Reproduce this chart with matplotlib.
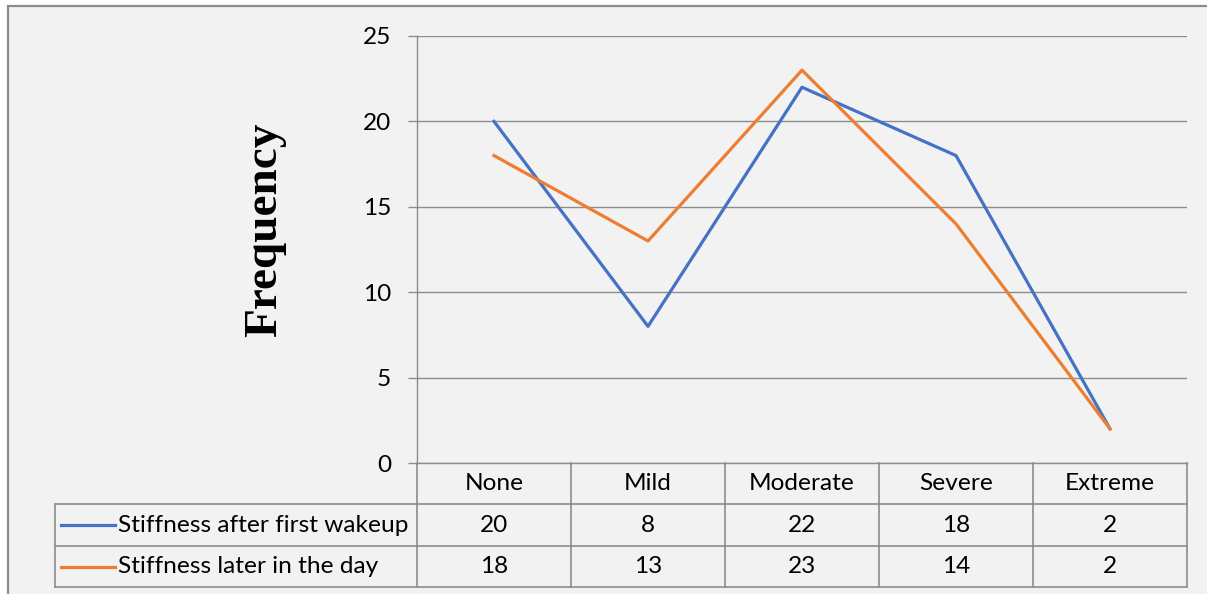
import numpy as np
import matplotlib.pyplot as plt
from matplotlib.patches import Rectangle
from matplotlib.lines import Line2D

categories = ['None', 'Mild', 'Moderate', 'Severe', 'Extreme']
wakeup = [20, 8, 22, 18, 2]
later_day = [18, 13, 23, 14, 2]
series_names = ['Stiffness after first wakeup', 'Stiffness later in the day']
y_ticks = [0, 5, 10, 15, 20, 25]

BLUE = '#4472C4'
ORANGE = '#ED7D31'
BG = '#F2F2F2'
GRID = '#8C8C8C'
TABLE_LINE = '#8C8C8C'
FONT = 'Lato'
FSIZE = 17.6

W, H = 1207, 594
fig = plt.figure(figsize=(W / 100, H / 100), dpi=100)
fig.patch.set_facecolor('white')

# chart panel with a thin gray frame (top and left visible)
panel = Rectangle((8 / W, -0.1), 1.2, (H - 6) / H + 0.1, transform=fig.transFigure,
                  facecolor=BG, edgecolor='#8C8C8C', linewidth=1.6, zorder=-10)
fig.patches.append(panel)

ax = fig.add_axes([417 / W, 131 / H, 770 / W, 427 / H])
ax.patch.set_visible(False)

x = np.arange(len(categories))
ax.plot(x, wakeup, color=BLUE, linewidth=2.3, solid_joinstyle='round', zorder=3)
ax.plot(x, later_day, color=ORANGE, linewidth=2.3, solid_joinstyle='round', zorder=3)

ax.set_xlim(-0.5, len(categories) - 0.5)
ax.set_ylim(0, 25)
ax.set_yticks(y_ticks)
ax.set_yticklabels([str(t) for t in y_ticks], fontfamily=FONT, fontsize=FSIZE)
ax.set_xticks([])
ax.tick_params(axis='y', length=6.5, width=1, color=GRID, pad=12)
ax.grid(axis='y', color=GRID, linewidth=1)
ax.set_axisbelow(True)
for side in ['top', 'right']:
    ax.spines[side].set_visible(False)
for side in ['left', 'bottom']:
    ax.spines[side].set_color(GRID)
    ax.spines[side].set_linewidth(1)

fig.text(265 / W, 1 - 230 / H, 'Frequency', rotation=90, ha='center', va='center',
         fontfamily='Liberation Serif', fontweight='bold', fontsize=34)

# data table under the plot: header row of categories, then one row per series
trans = ax.get_xaxis_transform()
px = 1 / 427
row_edges = [0, -41 * px, -83 * px, -124 * px]
left_edge = -0.5 - (417 - 55) / 154
right_edge = len(categories) - 0.5

def hline(x0, x1, y):
    ax.add_line(Line2D([x0, x1], [y, y], transform=trans, color=TABLE_LINE,
                       linewidth=1.2, clip_on=False))

def vline(xv, y0, y1):
    ax.add_line(Line2D([xv, xv], [y0, y1], transform=trans, color=TABLE_LINE,
                       linewidth=1.2, clip_on=False))

for y in row_edges[1:]:
    hline(left_edge, right_edge, y)
for b in np.arange(len(categories) + 1) - 0.5:
    vline(b, row_edges[0], row_edges[3])
vline(left_edge, row_edges[1], row_edges[3])

text_kw = dict(transform=trans, fontfamily=FONT, fontsize=FSIZE,
               va='center', ha='center', clip_on=False)
for i, cat in enumerate(categories):
    ax.text(i, (row_edges[0] + row_edges[1]) / 2, cat, **text_kw)

rows = [wakeup, later_day]
colors = [BLUE, ORANGE]
for r, (vals, name, c) in enumerate(zip(rows, series_names, colors)):
    yc = (row_edges[r + 1] + row_edges[r + 2]) / 2
    for i, v in enumerate(vals):
        ax.text(i, yc, str(v), **text_kw)
    sx0 = left_edge + 6 / 154
    sx1 = left_edge + 60 / 154
    ax.add_line(Line2D([sx0, sx1], [yc, yc], transform=trans, color=c,
                       linewidth=2.3, clip_on=False))
    ax.text(left_edge + 63 / 154, yc, name, transform=trans, fontfamily=FONT,
            fontsize=FSIZE, va='center', ha='left', clip_on=False)

fig.savefig('out.png', dpi=100, facecolor=fig.get_facecolor())
